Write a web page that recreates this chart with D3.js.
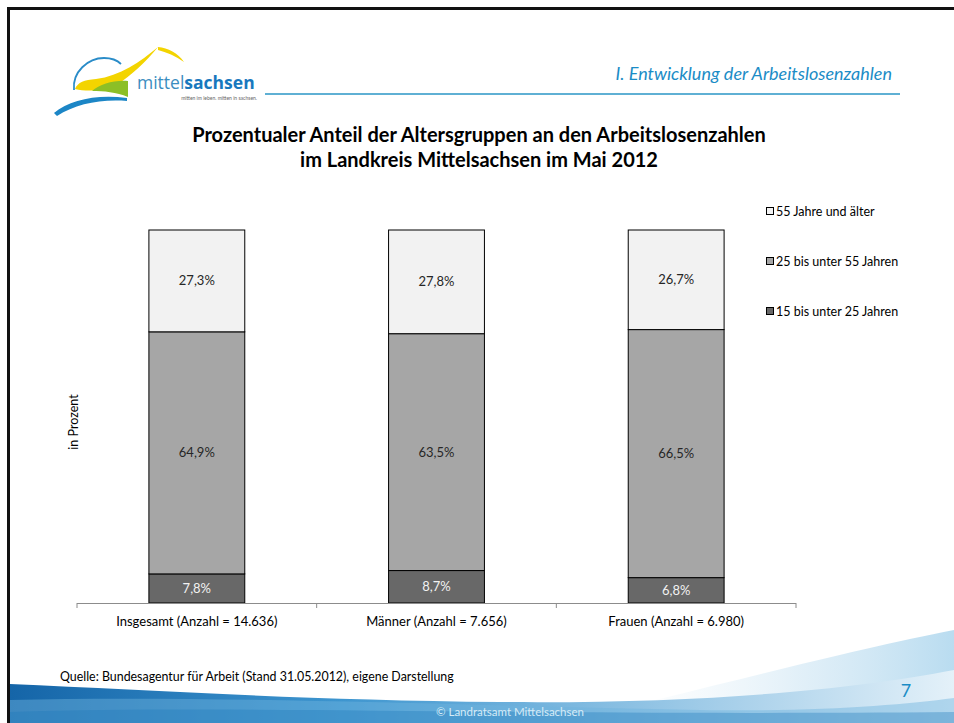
<!DOCTYPE html>
<head>
<meta charset="utf-8">
<title>Altersgruppen Arbeitslose Mittelsachsen</title>
<script src="https://d3js.org/d3.v7.min.js"></script>
<style>
html, body { margin: 0; background: #fff; overflow: hidden; }
svg { font-family: Lato, "Open Sans", sans-serif; display: block; }
.seg { stroke: #000; stroke-width: 1; }
.val { font-size: 13px; text-anchor: middle; }
.axis path, .axis line { stroke: #8c8c8c; }
.axis text { font-size: 13px; fill: #000; }
.legend text { font-size: 12.5px; }
</style>
</head>
<body>
<div id="chart"></div>
<script>

// categories and series (percent)
var categories = ["Insgesamt (Anzahl = 14.636)", "Männer (Anzahl = 7.656)", "Frauen (Anzahl = 6.980)"];
var seriesNames = ["15 bis unter 25 Jahren", "25 bis unter 55 Jahren", "55 Jahre und älter"];
var jung   = [7.8, 8.7, 6.8];
var mittel = [64.9, 63.5, 66.5];
var alt    = [27.3, 27.8, 26.7];
var seriesColors = ["#686868", "#a6a6a6", "#f2f2f2"];
var labelColors = ["#f2f2f2", "#262626", "#262626"];

var width = 954, height = 723;

var svg = d3.select("#chart").append("svg")
  .attr("width", width)
  .attr("height", height);

/* background decoration */
var defs = svg.append("defs");
var g1 = defs.append("linearGradient").attr("id", "wave1");
g1.append("stop").attr("offset", "0%").attr("stop-color", "#1565a8");
g1.append("stop").attr("offset", "35%").attr("stop-color", "#3d95cf");
g1.append("stop").attr("offset", "100%").attr("stop-color", "#e4f1f9");
var g2 = defs.append("linearGradient").attr("id", "wave2");
g2.append("stop").attr("offset", "0%").attr("stop-color", "#ffffff").attr("stop-opacity", 0);
g2.append("stop").attr("offset", "60%").attr("stop-color", "#cfe6f4").attr("stop-opacity", 0.6);
g2.append("stop").attr("offset", "100%").attr("stop-color", "#b9dcf0");

svg.append("path")
  .attr("d", "M560,723 C700,690 850,650 954,630 L954,723 Z")
  .attr("fill", "url(#wave2)");
svg.append("path")
  .attr("d", "M10,684 C150,690 300,700 500,702 C700,704 850,690 954,670 L954,723 L10,723 Z")
  .attr("fill", "url(#wave1)");
svg.append("path")
  .attr("d", "M10,700 C200,695 450,705 700,710 C820,712 900,705 954,698 L954,723 L10,723 Z")
  .attr("fill", "#6fb3de").attr("opacity", 0.45);
svg.append("path")
  .attr("d", "M10,712 C250,705 500,716 954,712 L954,723 L10,723 Z")
  .attr("fill", "#1e78bb").attr("opacity", 0.35);

// frame
svg.append("path")
  .attr("d", "M8.5,723 L8.5,8.5 L954,8.5")
  .attr("fill", "none").attr("stroke", "#111").attr("stroke-width", 3);

/* logo */
var logo = svg.append("g");
logo.append("path")
  .attr("d", "M74,90 C72,72 88,58 104,58 C112,58 118,61 121,64")
  .attr("fill", "none").attr("stroke", "#2a8cc8").attr("stroke-width", 1.8);
logo.append("path")
  .attr("d", "M75,89 C78,82 84,80 96,79 C120,76 140,62 158,47 C146,62 130,76 118,84 C104,91 88,92 75,89 Z")
  .attr("fill", "#f3d400");
logo.append("path")
  .attr("d", "M158,47 C168,48 178,53 184,62 C176,56 166,52 158,50 Z")
  .attr("fill", "#f3d400");
logo.append("path")
  .attr("d", "M92,91 C100,84 114,80 128,81 L128,97 C116,92 104,91 92,91 Z")
  .attr("fill", "#8cbf26");
logo.append("path")
  .attr("d", "M54,113 C70,100 96,94 127,98 L127,101 C100,99 76,104 57,116 Z")
  .attr("fill", "#1c86c6");
logo.append("text")
  .attr("x", 137).attr("y", 89)
  .style("font-size", "17.5px")
  .style("font-family", "'Open Sans', sans-serif")
  .selectAll("tspan")
  .data([["mittel", "#3b8dc0", 400], ["sachsen", "#1878be", 700]])
  .join("tspan")
  .attr("fill", d => d[1])
  .style("font-weight", d => d[2])
  .text(d => d[0]);
logo.append("text")
  .attr("x", 257).attr("y", 100)
  .attr("text-anchor", "end")
  .attr("fill", "#666")
  .style("font-size", "5px")
  .text("mitten im leben. mitten in sachsen.");

/* header */
svg.append("line")
  .attr("x1", 265).attr("x2", 900).attr("y1", 94).attr("y2", 94)
  .attr("stroke", "#5fb0d4").attr("stroke-width", 2);
svg.append("text")
  .attr("x", 892).attr("y", 80)
  .attr("text-anchor", "end")
  .attr("fill", "#1b8cc6")
  .style("font-size", "18px")
  .style("font-style", "italic")
  .text("I. Entwicklung der Arbeitslosenzahlen");

/* title */
svg.append("text")
  .attr("x", 479).attr("y", 142)
  .attr("text-anchor", "middle")
  .style("font-size", "20px").style("font-weight", "bold")
  .selectAll("tspan")
  .data(["Prozentualer Anteil der Altersgruppen an den Arbeitslosenzahlen", "im Landkreis Mittelsachsen im Mai 2012"])
  .join("tspan")
  .attr("x", 479)
  .attr("dy", (d, i) => i ? 25 : 0)
  .text(d => d);

/* scales */
var xScale = d3.scaleBand()
  .domain(categories)
  .range([77, 796])
  .padding(0);

var yScale = d3.scaleLinear()
  .domain([0, 100])
  .range([603, 230]);

var barW = xScale.bandwidth() * 0.4;

var table = categories.map((c, i) => ({ cat: c, v0: jung[i], v1: mittel[i], v2: alt[i] }));
var stack = d3.stack().keys(["v0", "v1", "v2"])(table);

var layers = svg.append("g").selectAll("g")
  .data(stack).join("g")
  .attr("fill", (d, i) => seriesColors[i]);

layers.selectAll("rect")
  .data(d => d).join("rect")
  .attr("class", "seg")
  .attr("x", d => xScale(d.data.cat) + (xScale.bandwidth() - barW) / 2)
  .attr("width", barW)
  .attr("y", d => yScale(d[1]))
  .attr("height", d => yScale(d[0]) - yScale(d[1]));

layers.selectAll("text")
  .data((d, i) => d.map(p => ({ p: p, i: i }))).join("text")
  .attr("class", "val")
  .attr("fill", d => labelColors[d.i])
  .attr("x", d => xScale(d.p.data.cat) + xScale.bandwidth() / 2)
  .attr("y", d => (yScale(d.p[0]) + yScale(d.p[1])) / 2 + 4.5)
  .text(d => d3.format(".1f")(d.p[1] - d.p[0]).replace(".", ",") + "%");

/* x axis with ticks between categories */
var xAxis = svg.append("g").attr("class", "axis")
  .attr("transform", "translate(0,603)");
xAxis.append("line")
  .attr("x1", 77).attr("x2", 796).attr("y1", 0.5).attr("y2", 0.5);
xAxis.selectAll(".tick")
  .data(categories.concat([null])).join("line")
  .attr("x1", (d, i) => i < categories.length ? xScale(d) : 796)
  .attr("x2", (d, i) => i < categories.length ? xScale(d) : 796)
  .attr("y1", 0).attr("y2", 5);
xAxis.selectAll("text")
  .data(categories).join("text")
  .attr("x", d => xScale(d) + xScale.bandwidth() / 2)
  .attr("y", 23)
  .attr("text-anchor", "middle")
  .text(d => d);

svg.append("text")
  .attr("transform", "translate(78,422) rotate(-90)")
  .attr("text-anchor", "middle")
  .style("font-size", "12.5px")
  .text("in Prozent");

/* legend */
var legend = svg.append("g").attr("class", "legend")
  .selectAll("g")
  .data(seriesNames.map((n, i) => ({ n: n, i: i })).reverse())
  .join("g")
  .attr("transform", (d, k) => `translate(766, ${216 + k * 50})`);
legend.append("rect")
  .attr("x", 0.5).attr("y", -8.5).attr("width", 7).attr("height", 7)
  .attr("fill", d => seriesColors[d.i])
  .attr("stroke", "#000");
legend.append("text")
  .attr("x", 10).attr("y", 0)
  .text(d => d.n);

/* footer */
svg.append("text")
  .attr("x", 60).attr("y", 681)
  .style("font-size", "12.4px")
  .text("Quelle: Bundesagentur für Arbeit (Stand 31.05.2012), eigene Darstellung");
svg.append("text")
  .attr("x", 906).attr("y", 697)
  .attr("text-anchor", "middle")
  .attr("fill", "#1b8cc6")
  .style("font-size", "18px")
  .text("7");
svg.append("text")
  .attr("x", 510).attr("y", 716)
  .attr("text-anchor", "middle")
  .attr("fill", "#d6ebf7")
  .style("font-size", "11.5px")
  .text("© Landratsamt Mittelsachsen");

</script>
</body>
</html>
